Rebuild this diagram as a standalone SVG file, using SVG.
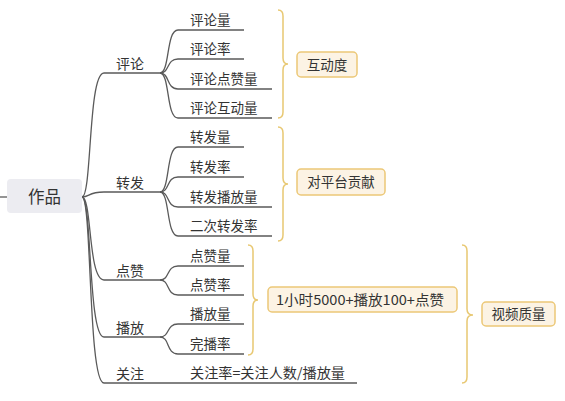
<svg xmlns="http://www.w3.org/2000/svg" width="565" height="401" viewBox="0 0 565 401">
<style>
.t{font-family:"Noto Sans CJK SC","Noto Sans",sans-serif;fill:#333;}
.s{font-size:13.5px;}
.l{fill:none;stroke:#5a5a5a;stroke-width:1.3;}
.b{fill:none;stroke:#e8c872;stroke-width:1.5;}
.bx{fill:#fcf3e4;stroke:#ecc877;stroke-width:1.5;}
</style>
<rect width="565" height="401" fill="#fff"/>
<g id="connectors">
<path class="l" d="M0 197 L7 197"/>
<path class="l" d="M82 197 C92 197 88 73 104 73 L160 73"/>
<path class="l" d="M82 197 C90 197 88 192 104 192 L160 192"/>
<path class="l" d="M82 197 C92 197 88 280 104 280 L160 280"/>
<path class="l" d="M82 197 C92 197 88 337 104 337 L160 337"/>
<path class="l" d="M82 197 C92 197 88 383 104 383 L357 383"/>
<path class="l" d="M160 73 C170 73 166 30 178 30 L244 30"/>
<path class="l" d="M160 73 C170 73 166 59 178 59 L244 59"/>
<path class="l" d="M160 73 C170 73 166 89 178 89 L272 89"/>
<path class="l" d="M160 73 C170 73 166 118 178 118 L272 118"/>
<path class="l" d="M160 192 C170 192 166 147 178 147 L244 147"/>
<path class="l" d="M160 192 C170 192 166 177 178 177 L244 177"/>
<path class="l" d="M160 192 C170 192 166 207 178 207 L272 207"/>
<path class="l" d="M160 192 C170 192 166 236 178 236 L272 236"/>
<path class="l" d="M160 280 C170 280 166 266 178 266 L244 266"/>
<path class="l" d="M160 280 C170 280 166 295 178 295 L244 295"/>
<path class="l" d="M160 337 C170 337 166 324 178 324 L244 324"/>
<path class="l" d="M160 337 C170 337 166 354 178 354 L244 354"/>
</g>
<g id="braces">
<path class="b" d="M278 10 Q283 10 283 16 L283 58 Q283 64 288 64 Q283 64 283 70 L283 112 Q283 118 278 118"/>
<path class="b" d="M278 127 Q283 127 283 133 L283 178 Q283 184 288 184 Q283 184 283 190 L283 235 Q283 241 278 241"/>
<path class="b" d="M248 245 Q253 245 253 251 L253 294 Q253 300 258 300 Q253 300 253 306 L253 349 Q253 355 248 355"/>
<path class="b" d="M462 245 Q467 245 467 251 L467 309 Q467 315 473 315 Q467 315 467 321 L467 377 Q467 383 462 383"/>
</g>
<g id="root">
<rect x="7" y="179" width="75" height="34" rx="4" fill="#ececf1"/>
<text class="t" x="44.5" y="202.5" font-size="16.5" text-anchor="middle">作品</text>
</g>
<g id="n-pinglun"><text class="t" x="116" y="69" font-size="14">评论</text></g>
<g id="n-zhuanfa"><text class="t" x="116" y="188" font-size="14">转发</text></g>
<g id="n-dianzan"><text class="t" x="116" y="276" font-size="14">点赞</text></g>
<g id="n-bofang"><text class="t" x="116" y="333" font-size="14">播放</text></g>
<g id="n-guanzhu"><text class="t" x="116" y="379" font-size="14">关注</text></g>
<g id="n-a1"><text class="t s" x="190" y="25">评论量</text></g>
<g id="n-a2"><text class="t s" x="190" y="54">评论率</text></g>
<g id="n-a3"><text class="t s" x="190" y="84">评论点赞量</text></g>
<g id="n-a4"><text class="t s" x="190" y="113">评论互动量</text></g>
<g id="n-b1"><text class="t s" x="190" y="142">转发量</text></g>
<g id="n-b2"><text class="t s" x="190" y="172">转发率</text></g>
<g id="n-b3"><text class="t s" x="190" y="202">转发播放量</text></g>
<g id="n-b4"><text class="t s" x="190" y="231">二次转发率</text></g>
<g id="n-c1"><text class="t s" x="190" y="261">点赞量</text></g>
<g id="n-c2"><text class="t s" x="190" y="290">点赞率</text></g>
<g id="n-d1"><text class="t s" x="190" y="319">播放量</text></g>
<g id="n-d2"><text class="t s" x="190" y="349">完播率</text></g>
<g id="n-e1"><text class="t s" x="190" y="378" textLength="155" lengthAdjust="spacingAndGlyphs">关注率=关注人数/播放量</text></g>
<g id="s-hudong">
<rect class="bx" x="297" y="52" width="60" height="25" rx="4"/>
<text class="t s" x="327" y="69.5" text-anchor="middle">互动度</text>
</g>
<g id="s-gongxian">
<rect class="bx" x="297" y="169" width="88" height="26" rx="4"/>
<text class="t s" x="341" y="187" text-anchor="middle">对平台贡献</text>
</g>
<g id="s-rule">
<rect class="bx" x="268" y="287" width="189" height="25" rx="4"/>
<text class="t s" x="276" y="304.5" textLength="168" lengthAdjust="spacingAndGlyphs">1小时5000+播放100+点赞</text>
</g>
<g id="s-quality">
<rect class="bx" x="482" y="302" width="73" height="24" rx="4"/>
<text class="t s" x="518.5" y="319" text-anchor="middle">视频质量</text>
</g>
</svg>
